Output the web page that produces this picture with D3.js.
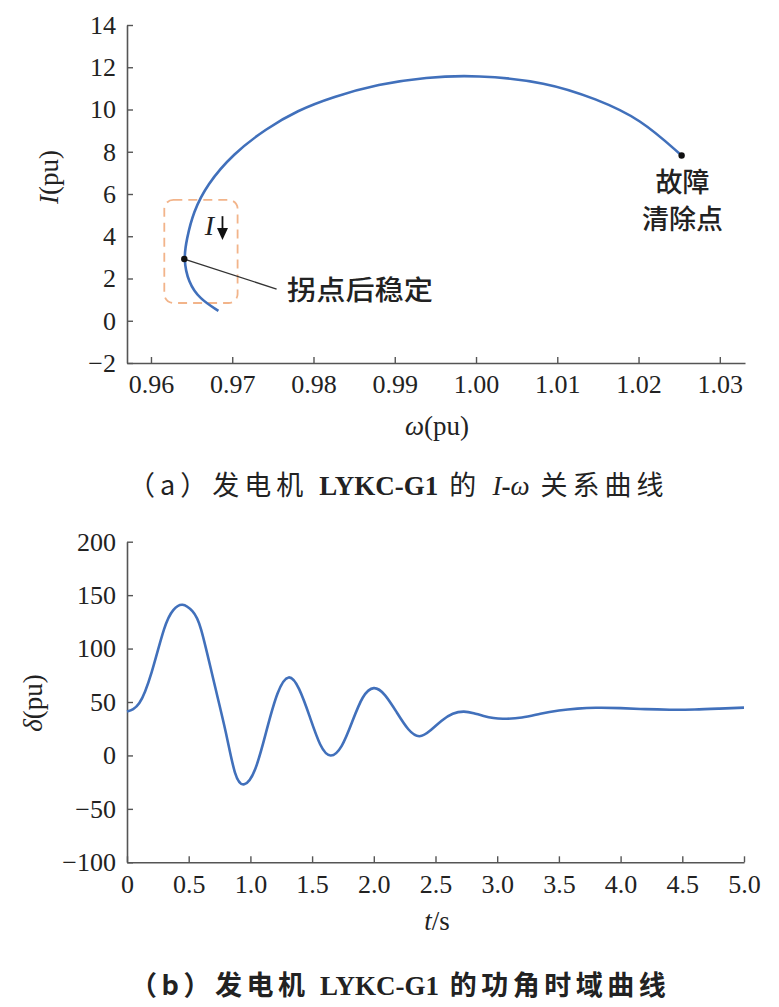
<!DOCTYPE html>
<html>
<head>
<meta charset="utf-8">
<script src="https://cdnjs.cloudflare.com/ajax/libs/d3/7.8.5/d3.min.js"></script>
<style>
  body { margin: 0; background: #fff; }
  svg { display: block; }
</style>
</head>
<body>
<svg id="chart" width="779" height="1007"></svg>
<script>
// (a) I-omega curve, from fault clearing point back to the knee and down
var omega = [1.0253, 1.0202, 1.0148, 1.0087, 1.0000, 0.9938, 0.9880, 0.9824,
             0.9780, 0.9742, 0.9701, 0.9669, 0.9652, 0.9644, 0.9640, 0.9646, 0.9660, 0.9683];
var current = [7.82, 9.57, 10.5, 11.3, 11.64, 11.53, 11.2, 10.6,
               9.95, 9.1, 7.9, 6.45, 5.14, 3.87, 2.92, 1.82, 1.03, 0.47];
var omegaTicks = [0.96, 0.97, 0.98, 0.99, 1.00, 1.01, 1.02, 1.03];
var currentTicks = [-2, 0, 2, 4, 6, 8, 10, 12, 14];
var faultPoint = [1.0253, 7.82];
var kneePoint = [0.9641, 2.92];

// (b) power angle vs time
var time = [0, 0.10, 0.20, 0.30, 0.375, 0.45, 0.53, 0.60, 0.70, 0.80,
            0.875, 0.95, 1.04, 1.13, 1.22, 1.31, 1.395, 1.48, 1.565, 1.65,
            1.74, 1.825, 1.91, 2.00, 2.09, 2.185, 2.28, 2.37, 2.46, 2.55,
            2.64, 2.73, 2.81, 2.89, 2.97, 3.05, 3.20, 3.35, 3.50, 3.65,
            3.80, 4.00, 4.20, 4.40, 4.60, 4.80, 5.00];
var delta = [41, 49, 78, 118, 136, 141, 135, 118, 71, 22,
             -16, -27, -12.5, 23, 58, 73, 62, 36.5, 10.5, 0,
             9, 31.5, 54, 63, 56.5, 40.5, 24.5, 18, 23.5, 32.5,
             39, 41, 39.5, 37, 35, 34.3, 35.5, 39, 42, 43.8,
             44.6, 44.3, 43.3, 42.8, 43, 43.8, 44.7];
var timeTicks = [0, 0.5, 1.0, 1.5, 2.0, 2.5, 3.0, 3.5, 4.0, 4.5, 5.0];
var deltaTicks = [-100, -50, 0, 50, 100, 150, 200];

var blue = '#4170bb',
    axisColor = '#555',
    serif = '"Liberation Serif", "Times New Roman", serif',
    cjk = '"Noto Sans CJK SC", sans-serif';

var svg = d3.select('#chart');

function styleAxis(g) {
  g.select('.domain').attr('stroke', axisColor).attr('stroke-width', 1.6);
  g.selectAll('.tick line').attr('stroke', axisColor).attr('stroke-width', 1.4);
  g.selectAll('.tick text').attr('fill', '#222')
    .style('font-family', serif).style('font-size', '26px');
}

// ---------- chart (a) ----------
var x1 = d3.scaleLinear().domain([0.95705, 1.0331]).range([127, 745]);
var y1 = d3.scaleLinear().domain([-2, 14]).range([363, 25]);

svg.append('g').attr('transform', 'translate(0,363)')
  .call(d3.axisBottom(x1).tickValues(omegaTicks).tickFormat(d3.format('.2f'))
    .tickSizeInner(-6).tickSizeOuter(0).tickPadding(12))
  .call(styleAxis);
svg.append('g').attr('transform', 'translate(127,0)')
  .call(d3.axisLeft(y1).tickValues(currentTicks)
    .tickSizeInner(-6).tickSizeOuter(0).tickPadding(11))
  .call(styleAxis);

// dashed highlight box round the knee
var box = { w0: 0.96164, w1: 0.97066, i0: 0.84, i1: 5.72 };
svg.append('rect')
  .attr('x', x1(box.w0)).attr('y', y1(box.i1))
  .attr('width', x1(box.w1) - x1(box.w0)).attr('height', y1(box.i0) - y1(box.i1))
  .attr('rx', 9).attr('ry', 9)
  .attr('fill', 'none').attr('stroke', '#f2b48a').attr('stroke-width', 1.8)
  .attr('stroke-dasharray', '9,6');

var line1 = d3.line()
  .x(function (d) { return x1(d[0]); })
  .y(function (d) { return y1(d[1]); })
  .curve(d3.curveBasis);

svg.append('path').datum(d3.zip(omega, current))
  .attr('d', line1).attr('fill', 'none')
  .attr('stroke', blue).attr('stroke-width', 2.6);

// leader line from knee to its label
svg.append('line')
  .attr('x1', x1(kneePoint[0])).attr('y1', y1(kneePoint[1]))
  .attr('x2', x1(0.97546)).attr('y2', y1(1.50))
  .attr('stroke', '#333').attr('stroke-width', 1.4);

svg.selectAll('circle.pt').data([faultPoint, kneePoint])
  .enter().append('circle').attr('class', 'pt')
  .attr('cx', function (d) { return x1(d[0]); })
  .attr('cy', function (d) { return y1(d[1]); })
  .attr('r', 3.2).attr('fill', '#111');

// "I" with a down arrow
svg.append('text')
  .attr('x', x1(0.9672)).attr('y', y1(4.5)).attr('dy', '0.35em')
  .attr('text-anchor', 'middle')
  .style('font-family', serif).style('font-style', 'italic').style('font-size', '28px')
  .attr('fill', '#222').text('I');
var ax = x1(0.9688), ayTop = y1(4.95), ayBot = y1(3.82);
svg.append('line').attr('x1', ax).attr('x2', ax).attr('y1', ayTop).attr('y2', ayBot - 9)
  .attr('stroke', '#111').attr('stroke-width', 1.8);
svg.append('path')
  .attr('d', 'M' + (ax - 5.5) + ',' + (ayBot - 12) + 'L' + (ax + 5.5) + ',' + (ayBot - 12) + 'L' + ax + ',' + ayBot + 'Z')
  .attr('fill', '#111');

svg.append('text')
  .attr('x', 287).attr('y', y1(1.43)).attr('dy', '0.35em')
  .attr('textLength', 146).attr('lengthAdjust', 'spacingAndGlyphs')
  .style('font-family', cjk).style('font-size', '27px').style('font-weight', 500)
  .attr('fill', '#222').text('拐点后稳定');

svg.selectAll('text.fault').data(['故障', '清除点'])
  .enter().append('text').attr('class', 'fault')
  .attr('x', x1(faultPoint[0]) + 1)
  .attr('y', function (d, i) { return y1(faultPoint[1]) + 27 + i * 37; })
  .attr('dy', '0.35em').attr('text-anchor', 'middle')
  .style('font-family', cjk).style('font-size', '27px').style('font-weight', 500)
  .attr('fill', '#222').text(function (d) { return d; });

// axis titles (a)
svg.append('text')
  .attr('transform', 'translate(49,177) rotate(-90)')
  .attr('text-anchor', 'middle').attr('dy', '0.35em')
  .style('font-family', serif).style('font-size', '27px').attr('fill', '#222')
  .html('<tspan font-style="italic">I</tspan>(pu)');
svg.append('text')
  .attr('x', 437).attr('y', 426).attr('dy', '0.35em').attr('text-anchor', 'middle')
  .style('font-family', serif).style('font-size', '27px').attr('fill', '#222')
  .html('<tspan font-style="italic">ω</tspan>(pu)');

// ---------- chart (b) ----------
var x2 = d3.scaleLinear().domain([0, 5]).range([127, 744]);
var y2 = d3.scaleLinear().domain([-100, 200]).range([862.3, 541.7]);

svg.append('g').attr('transform', 'translate(0,862.3)')
  .call(d3.axisBottom(x2).tickValues(timeTicks)
    .tickFormat(function (d) { return d === 0 ? '0' : d3.format('.1f')(d); })
    .tickSizeInner(-6).tickSizeOuter(0).tickPadding(12))
  .call(styleAxis);
svg.append('g').attr('transform', 'translate(127,0)')
  .call(d3.axisLeft(y2).tickValues(deltaTicks)
    .tickSizeInner(-6).tickSizeOuter(0).tickPadding(11))
  .call(styleAxis);

var line2 = d3.line()
  .x(function (d) { return x2(d[0]); })
  .y(function (d) { return y2(d[1]); })
  .curve(d3.curveNatural);

svg.append('path').datum(d3.zip(time, delta))
  .attr('d', line2).attr('fill', 'none')
  .attr('stroke', blue).attr('stroke-width', 2.6);

svg.append('text')
  .attr('transform', 'translate(33,703) rotate(-90)')
  .attr('text-anchor', 'middle').attr('dy', '0.35em')
  .style('font-family', serif).style('font-size', '27px').attr('fill', '#222')
  .html('<tspan font-style="italic">δ</tspan>(pu)');
svg.append('text')
  .attr('x', 437).attr('y', 921).attr('dy', '0.35em').attr('text-anchor', 'middle')
  .style('font-family', serif).style('font-size', '27px').attr('fill', '#222')
  .html('<tspan font-style="italic">t</tspan>/s');

// ---------- captions ----------
function caption(y, x0, bold, spacing, parts) {
  var t = svg.append('text').attr('x', x0).attr('y', y).attr('dy', '0.35em')
    .style('font-size', '27px').attr('fill', '#222')
    .style('font-weight', bold ? 700 : 400);
  parts.forEach(function (p) {
    t.append('tspan').style('font-family', p.latin ? serif : cjk)
      .style('font-style', p.italic ? 'italic' : 'normal')
      .style('font-weight', p.latin && !p.italic ? 700 : null)
      .style('letter-spacing', p.latin ? '0px' : spacing + 'px')
      .text(p.s);
  });
}
caption(486, 128, false, 5, [
  { s: '（a）发电机 ' }, { s: 'LYKC-G1', latin: true }, { s: ' 的 ' },
  { s: 'I', latin: true, italic: true }, { s: '-', latin: true },
  { s: 'ω', latin: true, italic: true }, { s: ' 关系曲线' }
]);
caption(986, 130, true, 4.5, [
  { s: '（b）发电机 ' }, { s: 'LYKC-G1', latin: true }, { s: ' 的功角时域曲线' }
]);
</script>
</body>
</html>
